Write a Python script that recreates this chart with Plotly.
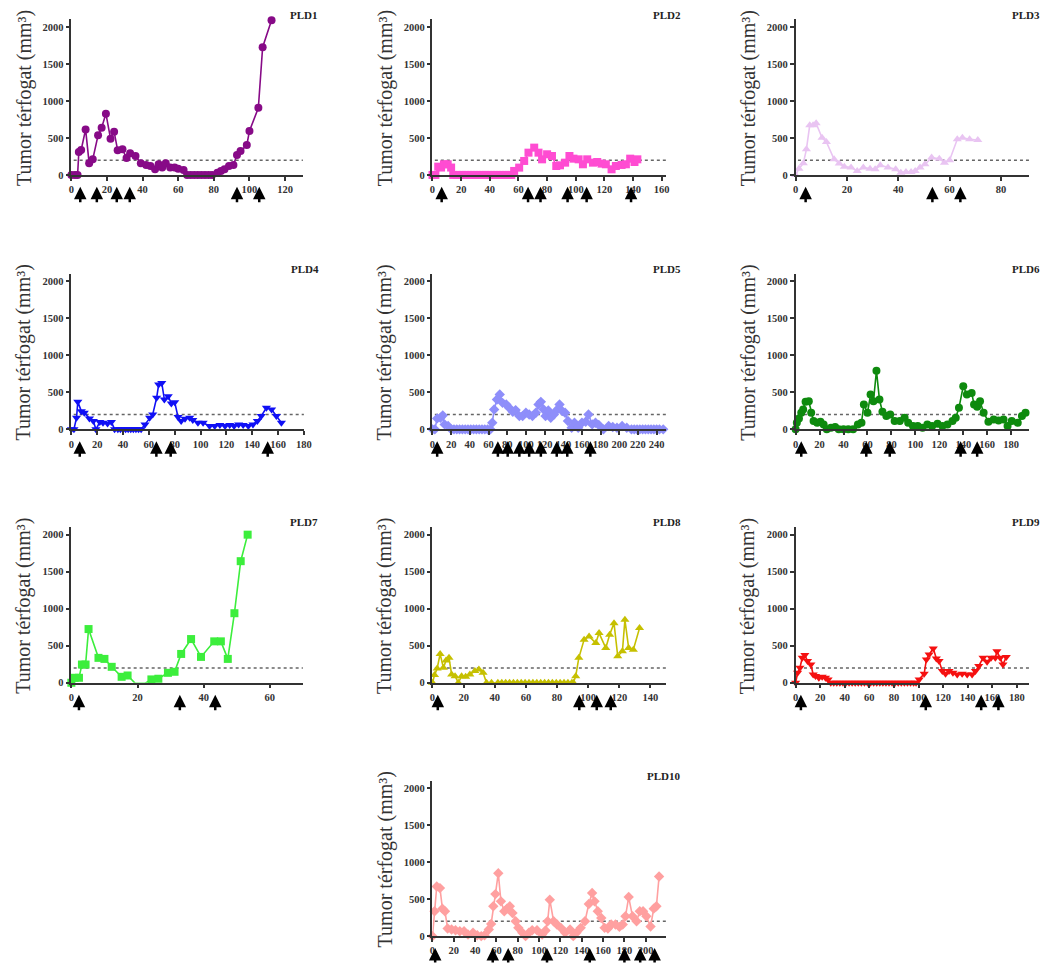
import plotly.graph_objects as go

# page is 1057x972; the html body has an 8px margin, so the figure is drawn 8px in
PAGE_W, PAGE_H = 1057, 972
OFF = 8
W, H = PAGE_W - 2 * OFF, PAGE_H - 2 * OFF

# ---------------- data ----------------
pld1_x = [0, 2, 3.5, 4.2, 5.5, 8, 10, 12, 15, 17, 19.4, 22, 24, 26, 28.7, 31, 33, 36, 39, 42,
          44.4, 47, 49, 51, 53, 55.5, 58, 60, 63, 65, 67, 69, 71, 73, 75, 77, 79, 82, 84, 86,
          88.5, 91, 93, 95, 98.5, 100, 105, 107.4, 112.4]
pld1_y = [0, 0, 0, 310, 337, 615, 157, 211, 535, 638, 827, 490, 584, 333, 346, 229, 292, 256, 157, 135,
          121, 76, 144, 99, 157, 99, 99, 85, 67, 0, 0, 0, 0, 0, 0, 0, 0, 31, 54, 76,
          121, 135, 270, 323, 404, 593, 908, 1726, 2090]
pld1_arrows = [5, 14.3, 25.5, 32.8, 93, 105.5]

pld2_x = [0, 2, 4, 6, 8, 10.6, 13, 14.5,
          17, 19, 21, 23, 25, 27, 29, 31, 33, 35, 37, 39, 41, 43, 45, 47, 49, 51, 53, 55,
          57, 60.5, 64, 67, 71, 74, 76.5, 80, 83.4, 86.4,
          89, 92.6, 95.6, 98.4, 102, 105, 108, 112, 115, 118,
          121, 125, 128, 132, 135, 138, 141, 143]
pld2_y = [0, 0, 112, 100, 144, 144, 100, 0,
          0, 0, 0, 0, 0, 0, 0, 0, 0, 0, 0, 0, 0, 0, 0, 0, 0, 0, 0, 0,
          54, 99, 189, 301, 369, 301, 211, 279, 256, 121,
          130, 166, 256, 220, 211, 144, 211, 166, 175, 153,
          144, 76, 121, 135, 144, 220, 175, 211]
pld2_arrows = [6.4, 66.7, 75.4, 94.3, 107.6, 138.6]

pld3_x = [0, 1.3, 3, 4.2, 5.5, 6.8, 8, 10.3, 12, 15, 17, 19, 21.6, 24, 26.4, 29, 31, 33, 36, 39,
          41, 43, 45, 46.6, 48.5, 50.4, 53, 56, 58, 60, 63, 65, 67.8, 71]
pld3_y = [0, 85, 157, 346, 670, 670, 697, 503, 445, 211, 153, 112, 99, 54, 99, 85, 76, 130, 99, 76,
          31, 40, 40, 54, 99, 144, 234, 220, 166, 198, 481, 503, 481, 472]
pld3_arrows = [3.9, 53.3, 64.2]

pld4_x = [0, 2, 4, 5, 7.7, 10, 14, 17, 19, 22, 24.5, 28, 31, 33.5, 36, 38, 40, 42, 44, 46,
          48, 50, 52, 54, 57, 60.6, 63, 66, 67.6, 70, 72, 75, 77.4, 80, 82.6, 85, 88, 91.6, 94, 98,
          102, 107, 111, 115, 119, 122.6, 126, 129.5, 133, 137, 140.6, 144, 147, 151, 155, 158.7, 162.6]
pld4_y = [0, 0, 157, 371, 246, 224, 148, 112, 0, 98, 89, 80, 98, 0, 0, 0, 0, 0, 0, 0,
          0, 0, 0, 0, 67, 157, 201, 425, 604, 626, 403, 447, 349, 367, 165, 112, 143, 157, 125, 89,
          89, 45, 45, 58, 45, 58, 45, 67, 58, 45, 67, 112, 179, 291, 268, 179, 89]
pld4_arrows = [6.5, 65.8, 76.9, 152]

pld5_x = [0, 2.5, 5, 8.5, 11, 13, 16.7, 20,
          23, 26, 29, 32, 35, 38, 41, 44, 47, 50, 53, 56, 59, 62,
          64, 66, 69, 72, 75, 79, 82, 86, 89, 93,
          96.5, 100, 103.5, 107, 110.6, 113.5, 116, 119, 121, 124,
          126.6, 130, 133.7, 136, 139, 142, 145, 149, 152, 156,
          160, 164, 167, 171, 174.5, 178, 183, 188.6, 193, 197.5,
          203, 208, 213,
          216, 219, 222, 225, 228, 231, 234, 237, 240, 243, 247]
pld5_y = [0, 0, 148, 157, 188, 67, 45, 0,
          0, 0, 0, 0, 0, 0, 0, 0, 0, 0, 0, 0, 0, 0,
          89, 268, 403, 470, 358, 336, 291, 237, 260, 179,
          179, 224, 201, 179, 224, 336, 371, 268, 179, 255,
          157, 201, 268, 336, 246, 224, 112, 22, 89, 22,
          89, 103, 201, 67, 89, 58, 0, 45, 31, 22,
          45, 22, 0,
          0, 0, 0, 0, 0, 0, 0, 0, 0, 0, 0]
pld5_arrows = [5, 70, 80.5, 93, 103.5, 116, 133, 144.3, 169]

pld6_x = [0, 1, 2.8, 4.7, 6.3, 8.3, 11, 13, 15, 18, 20.7, 23.4, 26, 29.5, 33, 36, 40, 44, 48, 52,
          55, 57, 60, 62.6, 65, 67.5, 70, 72.5, 75.8, 79, 82.7, 87, 91, 94, 98, 102, 106, 110, 114, 118.5,
          122.6, 126.8, 131, 133.7, 136.4, 140, 143, 147, 149, 151.6, 154, 157, 161, 165.4, 169.5,
          173.6, 177, 180.5, 185.5, 189, 192]
pld6_y = [0, 89, 148, 224, 268, 371, 380, 224, 112, 89, 103, 67, 0, 22, 31, 0, 0, 0, 0, 67,
          89, 336, 224, 470, 380, 792, 403, 237, 179, 201, 112, 112, 157, 89, 45, 45, 22, 67, 45, 76,
          45, 67, 112, 157, 291, 582, 470, 492, 336, 304, 380, 224, 103, 134, 121,
          134, 45, 112, 89, 179, 224]
pld6_arrows = [4.7, 59, 78.6, 137.8, 151.6]

pld7_x = [0, 1, 2.3, 3.2, 4.3, 5.2, 8.2, 10, 12.2, 15.2, 17, 19.3, 22.2, 24.2, 26.3, 29.2, 31.2,
          33.2, 36.2, 39.2, 43.2, 45.2, 47.3, 49.3, 51.2, 53.3]
pld7_y = [0, 67, 67, 246, 246, 725, 336, 322, 215, 80, 98, -8, -8, 45, 54, 134, 148,
          389, 590, 349, 559, 559, 322, 939, 1642, 2000]
pld7_arrows = [2.3, 32.8, 43.5]

pld8_x = [0, 1.3, 3, 4.9, 7, 8.7, 10.6, 12.3, 14.5, 16.6, 18.7, 21.3, 24, 27.2, 29.8, 32.5, 34.7, 37.9,
          42, 44.5, 47, 49.5, 52, 54.5, 57, 59.5, 62, 64.5, 67, 69.5, 72, 74.5, 77, 79.5, 82, 84.5, 87,
          89.5, 90.5,
          92, 94, 97.4, 100.6, 104.9, 107, 111.3, 113.8, 116.6, 119, 122, 123.6, 126, 129, 133]
pld8_y = [0, 103, 192, 389, 201, 300, 336, 112, 89, 0, 89, 80, 112, 157, 179, 134, 0, 0,
          0, 0, 0, 0, 0, 0, 0, 0, 0, 0, 0, 0, 0, 0, 0, 0, 0, 0, 0,
          0, 0,
          89, 336, 582, 626, 537, 671, 470, 649, 805, 358, 425, 850, 470, 447, 738]
pld8_arrows = [3.4, 94.3, 105.5, 114.5]

pld9_x = [0, 1.6, 3.5, 5.4, 7.5, 9.7, 12.4, 14.3, 16.2, 18.9, 21.6, 24.3, 26.4, 28.6,
          31, 33.5, 36, 38.5, 41, 43.5, 46, 48.5, 51, 53.5, 56, 58.5, 61, 63.5, 66, 68.5, 71, 73.5,
          76, 78.5, 81, 83.5, 86, 88.5, 91, 93.5, 96, 98,
          100.5, 104.6, 106.4, 108.6, 112, 114.5, 116.7, 119.4, 122, 124.8, 128, 131.5, 135.5,
          139.6, 143.6, 146.3, 149, 152.5, 155.8, 159, 162.5, 163.8, 166.5, 168.7, 171.4]
pld9_y = [0, 135, 202, 337, 373, 292, 247, 112, 90, 67, 81, 67, 45, 0,
          0, 0, 0, 0, 0, 0, 0, 0, 0, 0, 0, 0, 0, 0, 0, 0, 0, 0,
          0, 0, 0, 0, 0, 0, 0, 0, 0, 0,
          45, 121, 315, 382, 463, 328, 292, 157, 121, 157, 135, 112, 121,
          112, 112, 157, 225, 337, 283, 337, 337, 427, 337, 247, 346]
pld9_arrows = [4.3, 105.9, 151, 165]

pld10_x = [0, 1.9, 4, 7, 9.3, 11.7, 14.2, 17.9, 21.6, 25.6, 29.6, 33.3, 38, 42, 45.7, 48.8, 52.8,
           55, 57, 59, 61.7, 64.2, 67.3, 69.8, 72.5, 75, 78, 80.5, 84.3, 87.3, 90.4, 93.5, 98, 102.8,
           106, 108, 110, 113.6, 116.7, 120.4, 124.4, 129, 132, 135, 139, 143, 146.6, 149.7, 152, 155,
           158.3, 161.4, 164.5, 167.6, 171.6, 175.3, 178.4, 181, 184, 187.6, 191.4, 194.4, 197.5,
           200.6, 204.5, 207.5, 210, 212.5]
pld10_y = [0, 336, 671, 649, 371, 336, 103, 89, 80, 67, 67, 22, 45, 13, 0, 13, 89,
           165, 403, 568, 850, 470, 336, 371, 403, 313, 201, 112, 45, 0, 45, 80, 80, 22,
           76, 201, 492, 201, 157, 112, 45, 89, 0, 45, 112, 201, 434, 582, 470, 336,
           246, 112, 103, 157, 157, 125, 157, 268, 528, 268, 201, 336, 336,
           268, 130, 371, 403, 805]
pld10_arrows = [2.5, 56.5, 71, 107.4, 147.5, 180, 194.8, 208.3]

y_ticks = [0, 500, 1000, 1500, 2000]
threshold = 200
y_title = "Tumor térfogat (mm³)"

# ---------------- panel configuration ----------------
panels = [
    dict(name="PLD1", x=pld1_x, y=pld1_y, arr=pld1_arrows, color="#870A87", sym="circle", xmax=130, row=0, col=0, right=303),
    dict(name="PLD2", x=pld2_x, y=pld2_y, arr=pld2_arrows, color="#FF4CD2", sym="square", xmax=163, row=0, col=1, right=670),
    dict(name="PLD3", x=pld3_x, y=pld3_y, arr=pld3_arrows, color="#E9C4F2", sym="triangle-up", xmax=91, row=0, col=2, right=1037),
    dict(name="PLD4", x=pld4_x, y=pld4_y, arr=pld4_arrows, color="#1010F5", sym="triangle-down", xmax=180, row=1, col=0, right=304),
    dict(name="PLD5", x=pld5_x, y=pld5_y, arr=pld5_arrows, color="#8E8EFA", sym="diamond", xmax=250, row=1, col=1, right=670),
    dict(name="PLD6", x=pld6_x, y=pld6_y, arr=pld6_arrows, color="#0E8A0E", sym="circle", xmax=195, row=1, col=2, right=1037),
    dict(name="PLD7", x=pld7_x, y=pld7_y, arr=pld7_arrows, color="#3CEE3C", sym="square", xmax=70, row=2, col=0, right=303),
    dict(name="PLD8", x=pld8_x, y=pld8_y, arr=pld8_arrows, color="#C6C000", sym="triangle-up", xmax=150, row=2, col=1, right=670),
    dict(name="PLD9", x=pld9_x, y=pld9_y, arr=pld9_arrows, color="#F51010", sym="triangle-down", xmax=190, row=2, col=2, right=1037),
    dict(name="PLD10", x=pld10_x, y=pld10_y, arr=pld10_arrows, color="#FFA0A0", sym="diamond", xmax=219, row=3, col=1, right=670),
]

lefts = [69, 434, 801]
bottoms = [176, 432, 687, 942]
Y_MAX = 2100
px_per_2000 = 149
plot_h = px_per_2000 * Y_MAX / 2000.0

AX_COLOR = "#333333"
SERIF = "Liberation Serif"
tick_font = dict(family=SERIF, size=10.5, color=AX_COLOR, weight="bold")


def px(xp):
    return (xp - OFF) / W


def py(yp):
    return 1 - (yp - OFF) / H


fig = go.Figure()
annotations = []
shapes = []
layout_axes = {}

for i, p in enumerate(panels):
    k = i + 1
    xa = "x" if k == 1 else f"x{k}"
    ya = "y" if k == 1 else f"y{k}"
    left = lefts[p["col"]]
    right = p["right"]
    bottom = bottoms[p["row"]]
    top = bottom - plot_h

    fig.add_trace(go.Scatter(
        x=p["x"], y=p["y"], xaxis=xa, yaxis=ya, mode="lines+markers",
        line=dict(color=p["color"], width=1.6),
        marker=dict(color=p["color"], symbol=p["sym"], size=8),
        cliponaxis=False, showlegend=False, hoverinfo="x+y",
    ))

    layout_axes["xaxis" if k == 1 else f"xaxis{k}"] = dict(
        domain=[px(left), px(right)], range=[0, p["xmax"]], anchor=ya,
        dtick=20, tick0=0, showline=True, linecolor=AX_COLOR, linewidth=1.5,
        ticks="outside", ticklen=4, tickwidth=1.5, tickcolor=AX_COLOR,
        showgrid=False, zeroline=False, tickfont=tick_font, fixedrange=True,
    )
    layout_axes["yaxis" if k == 1 else f"yaxis{k}"] = dict(
        domain=[py(bottom), py(top)], range=[0, Y_MAX], anchor=xa,
        tickvals=y_ticks, showline=True, linecolor=AX_COLOR, linewidth=1.5,
        ticks="outside", ticklen=4, tickwidth=1.5, tickcolor=AX_COLOR,
        showgrid=False, zeroline=False, tickfont=tick_font, fixedrange=True,
    )

    # dotted threshold line
    shapes.append(dict(type="line", xref=f"{xa} domain", yref=ya, x0=0.01, x1=1,
                       y0=threshold, y1=threshold,
                       line=dict(color="#666666", width=1.5, dash="dot"), layer="below"))

    # panel label (kept inside the figure area)
    label_x = min(right + 16, OFF + W)
    annotations.append(dict(text=p["name"], xref="paper", yref="paper",
                            x=px(label_x), y=py(top - 12), xanchor="right", yanchor="top",
                            showarrow=False, borderpad=0,
                            font=dict(family=SERIF, size=11, color="#222222", weight="bold")))

    # y-axis title
    annotations.append(dict(text=y_title, xref="paper", yref="paper",
                            x=px(left - 48), y=py(bottom - plot_h / 2 + 1),
                            xanchor="center", yanchor="middle", textangle=-90, showarrow=False,
                            font=dict(family=SERIF, size=20, color="#333333")))

    # treatment arrows
    for a in p["arr"]:
        annotations.append(dict(text="", x=a, xref=xa, yref="paper",
                                y=py(bottom + 12), ax=0, ay=17,
                                showarrow=True, arrowhead=2, arrowsize=1.0,
                                arrowwidth=2.5, arrowcolor="#000000"))

fig.update_layout(
    width=W, height=H, autosize=False,
    margin=dict(l=0, r=0, t=0, b=0),
    paper_bgcolor="white", plot_bgcolor="white",
    showlegend=False, annotations=annotations, shapes=shapes,
    **layout_axes,
)

fig.write_html("out.html")
